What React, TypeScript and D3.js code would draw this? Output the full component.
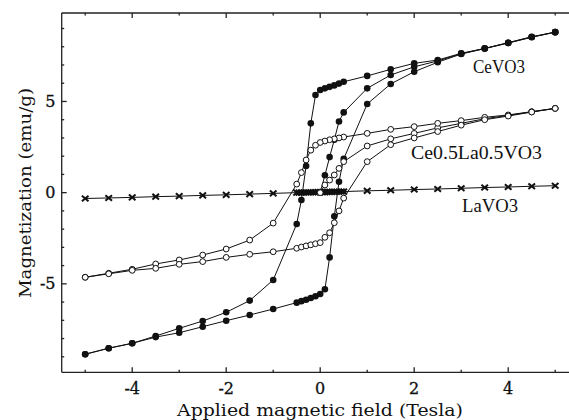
import React from "react";
import * as d3 from "d3";

// ---------- data ----------
// CeVO3 (filled circles)
const ceVirginH = [0, 0.1, 0.2, 0.3, 0.4, 0.5, 1, 1.5, 2, 2.5, 3, 3.5, 4, 4.5, 5];
const ceVirginM = [0, 0.95, 1.95, 2.9, 3.9, 4.4, 5.72, 6.45, 6.9, 7.22, 7.62, 7.9, 8.22, 8.53, 8.8];
const ceDescH = [5, 4.5, 4, 3.5, 3, 2.5, 2, 1.5, 1, 0.5, 0.4, 0.3, 0.2, 0.1, 0, -0.1, -0.2, -0.3, -0.4, -0.5, -1, -1.5, -2, -2.5, -3, -3.5, -4, -4.5, -5];
const ceDescM = [8.8, 8.55, 8.22, 7.91, 7.64, 7.27, 7.09, 6.76, 6.4, 6.08, 5.98, 5.88, 5.8, 5.72, 5.63, 5.35, 3.8, 1.46, -0.4, -1.72, -4.79, -5.92, -6.56, -7.04, -7.44, -7.86, -8.26, -8.53, -8.86];
const ceAscH = [-5, -4.5, -4, -3.5, -3, -2.5, -2, -1.5, -1, -0.5, -0.4, -0.3, -0.2, -0.1, 0, 0.1, 0.2, 0.3, 0.4, 0.5, 1, 1.5, 2, 2.5, 3, 3.5, 4, 4.5, 5];
const ceAscM = [-8.86, -8.53, -8.26, -7.92, -7.68, -7.35, -7.02, -6.71, -6.38, -6.03, -5.95, -5.87, -5.78, -5.68, -5.56, -5.3, -3.55, -1.3, 0.6, 1.85, 4.86, 5.96, 6.63, 7.15, 7.6, 7.9, 8.2, 8.52, 8.8];

// Ce0.5La0.5VO3 (open circles)
const mixVirginH = [0, 0.1, 0.2, 0.3, 0.4, 0.5, 1, 1.5, 2, 2.5, 3, 3.5, 4, 4.5, 5];
const mixVirginM = [0, 0.42, 0.69, 0.97, 1.33, 1.7, 2.56, 2.95, 3.25, 3.55, 3.8, 4.05, 4.24, 4.43, 4.62];
const mixDescH = [5, 4.5, 4, 3.5, 3, 2.5, 2, 1.5, 1, 0.5, 0.4, 0.3, 0.2, 0.1, 0, -0.1, -0.2, -0.3, -0.4, -0.5, -1, -1.5, -2, -2.5, -3, -3.5, -4, -4.5, -5];
const mixDescM = [4.62, 4.44, 4.26, 4.13, 3.95, 3.8, 3.62, 3.47, 3.25, 3.05, 3.0, 2.95, 2.9, 2.83, 2.75, 2.6, 2.33, 1.79, 1.1, 0.47, -1.67, -2.6, -3.09, -3.42, -3.69, -3.91, -4.2, -4.42, -4.64];
const mixAscH = [-5, -4.5, -4, -3.5, -3, -2.5, -2, -1.5, -1, -0.5, -0.4, -0.3, -0.2, -0.1, 0, 0.1, 0.2, 0.3, 0.4, 0.5, 1, 1.5, 2, 2.5, 3, 3.5, 4, 4.5, 5];
const mixAscM = [-4.64, -4.45, -4.26, -4.15, -3.93, -3.78, -3.55, -3.38, -3.24, -3.05, -2.98, -2.92, -2.86, -2.8, -2.74, -2.45, -2.2, -1.65, -1.0, -0.3, 1.7, 2.63, 3.0, 3.35, 3.7, 4.0, 4.2, 4.42, 4.62];

// LaVO3 (crosses)
const laH = [-5, -4.5, -4, -3.5, -3, -2.5, -2, -1.5, -1, -0.5, -0.45, -0.4, -0.35, -0.3, -0.25, -0.2, -0.15, -0.1, -0.05, 0, 0.05, 0.1, 0.15, 0.2, 0.25, 0.3, 0.35, 0.4, 0.45, 0.5, 1, 1.5, 2, 2.5, 3, 3.5, 4, 4.5, 5];
const laM = [-0.32, -0.29, -0.26, -0.22, -0.19, -0.15, -0.12, -0.08, -0.04, 0.0, 0.0, 0.0, 0.01, 0.01, 0.01, 0.02, 0.02, 0.02, 0.03, 0.03, 0.03, 0.03, 0.04, 0.04, 0.04, 0.05, 0.05, 0.05, 0.06, 0.06, 0.1, 0.13, 0.17, 0.2, 0.24, 0.28, 0.31, 0.35, 0.38];

const xMajorTicks = [-4, -2, 0, 2, 4];
const xMinorTicks = [-5, -3, -1, 1, 3, 5];
const yMajorTicks = [-5, 0, 5];
const yMinorTicks = [-9, -8, -7, -6, -4, -3, -2, -1, 1, 2, 3, 4, 6, 7, 8, 9];

const xTitle = "Applied magnetic field (Tesla)";
const yTitle = "Magnetization (emu/g)";
const labelCe = "CeVO3";
const labelMix = "Ce0.5La0.5VO3";
const labelLa = "LaVO3";

// ---------- component ----------
export default function App() {
  const W = 569, H = 420;
  const x = d3.scaleLinear().domain([-5.5, 5.5]).range([61.7, 578.7]);
  const y = d3.scaleLinear().domain([-9.85, 9.85]).range([372.3, 13]);
  const [x0, x1] = x.range();
  const [yb, yt] = y.range();

  const zip = (hs: number[], ms: number[]) => hs.map((h, i) => [h, ms[i]] as [number, number]);
  const line = d3.line<[number, number]>().x(d => x(d[0])).y(d => y(d[1]));

  const ceCurves = [zip(ceVirginH, ceVirginM), zip(ceDescH, ceDescM), zip(ceAscH, ceAscM)];
  const mixCurves = [zip(mixVirginH, mixVirginM), zip(mixDescH, mixDescM), zip(mixAscH, mixAscM)];
  const laCurve = zip(laH, laM);

  const serif = "'DejaVu Serif', serif";
  const times = "'Liberation Serif', 'Times New Roman', serif";

  return (
    <svg width={W} height={H} style={{ position: "absolute", left: 0, top: 0, background: "#fff" }}>
      <rect x={0} y={0} width={W} height={H} fill="#fff" />
      {/* frame */}
      <g stroke="#222" strokeWidth={1.3} fill="none">
        <line x1={x0} y1={yt} x2={x1} y2={yt} />
        <line x1={x0} y1={yb} x2={x1} y2={yb} />
        <line x1={x0} y1={yt} x2={x0} y2={yb} />
        <line x1={x1} y1={yt} x2={x1} y2={yb} />
        {xMajorTicks.map(t => (
          <g key={"xm" + t}>
            <line x1={x(t)} x2={x(t)} y1={yb} y2={yb - 5} />
            <line x1={x(t)} x2={x(t)} y1={yt} y2={yt + 5} />
          </g>
        ))}
        {xMinorTicks.map(t => (
          <g key={"xn" + t}>
            <line x1={x(t)} x2={x(t)} y1={yb} y2={yb - 2.5} />
            <line x1={x(t)} x2={x(t)} y1={yt} y2={yt + 2.5} />
          </g>
        ))}
        {yMajorTicks.map(t => (
          <line key={"ym" + t} x1={x0} x2={x0 + 5} y1={y(t)} y2={y(t)} />
        ))}
        {yMinorTicks.map(t => (
          <line key={"yn" + t} x1={x0} x2={x0 + 2.5} y1={y(t)} y2={y(t)} />
        ))}
      </g>
      {/* tick labels */}
      <g fontFamily={serif} fontSize={16} fill="#111" stroke="#111" strokeWidth={0.3}>
        {xMajorTicks.map(t => (
          <text key={"xl" + t} x={x(t)} y={394} textAnchor="middle">{t < 0 ? "-" + Math.abs(t) : String(t)}</text>
        ))}
        {yMajorTicks.map(t => (
          <text key={"yl" + t} x={55.5} y={y(t) + 5.5} textAnchor="end">{t < 0 ? "-" + Math.abs(t) : String(t)}</text>
        ))}
      </g>
      {/* axis titles */}
      <text x={320} y={416} textAnchor="middle" fontFamily={serif} fontSize={17} fill="#111"
        textLength={286} lengthAdjust="spacingAndGlyphs">{xTitle}</text>
      <text transform={`translate(31,193) rotate(-90)`} textAnchor="middle" fontFamily={serif} fontSize={17} fill="#111"
        textLength={210} lengthAdjust="spacingAndGlyphs">{yTitle}</text>

      {/* LaVO3 */}
      <path d={line(laCurve) || ""} fill="none" stroke="#111" strokeWidth={1} />
      {laCurve.map((d, i) => (
        <g key={"la" + i} transform={`translate(${x(d[0])},${y(d[1])})`} stroke="#111" strokeWidth={2}>
          <line x1={-3.3} y1={-2.8} x2={3.3} y2={2.8} />
          <line x1={-3.3} y1={2.8} x2={3.3} y2={-2.8} />
        </g>
      ))}

      {/* CeVO3 */}
      {ceCurves.map((c, k) => (
        <path key={"cel" + k} d={line(c) || ""} fill="none" stroke="#111" strokeWidth={1} />
      ))}
      {ceCurves.map((c, k) => c.map((d, i) => (
        <circle key={"ce" + k + "_" + i} cx={x(d[0])} cy={y(d[1])} r={3.3} fill="#111" />
      )))}

      {/* Ce0.5La0.5VO3 */}
      {mixCurves.map((c, k) => (
        <path key={"mxl" + k} d={line(c) || ""} fill="none" stroke="#111" strokeWidth={1} />
      ))}
      {mixCurves.map((c, k) => c.map((d, i) => (
        <circle key={"mx" + k + "_" + i} cx={x(d[0])} cy={y(d[1])} r={2.9} fill="#fff" stroke="#111" strokeWidth={1} />
      )))}

      {/* series labels */}
      <g fontFamily={times} fontSize={18.5} fill="#111">
        <text x={473} y={73} textLength={52} lengthAdjust="spacingAndGlyphs">{labelCe}</text>
        <text x={411} y={159} textLength={131} lengthAdjust="spacingAndGlyphs">{labelMix}</text>
        <text x={462} y={211.5} textLength={56} lengthAdjust="spacingAndGlyphs">{labelLa}</text>
      </g>
    </svg>
  );
}
